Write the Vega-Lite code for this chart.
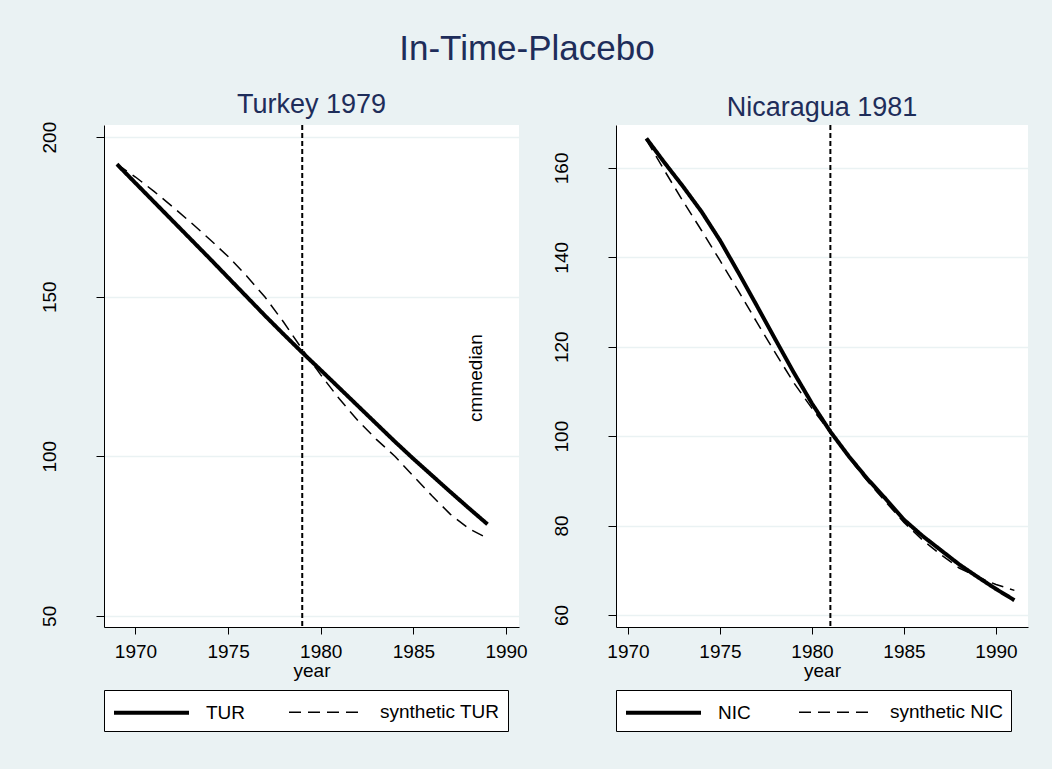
{
  "$schema": "https://vega.github.io/schema/vega-lite/v6.json",
  "background": "#EAF2F3",
  "padding": {"left": 40, "top": 32, "right": 24, "bottom": 37},
  "title": {"text": "In-Time-Placebo", "fontSize": 35, "font": "Liberation Sans", "fontWeight": "normal", "color": "#1E2D5A", "anchor": "middle", "offset": 24, "dx": -7},
  "datasets": {
    "tur": [
      {"year": 1969, "value": 191.5, "series": "TUR"},
      {"year": 1970, "value": 185.6, "series": "TUR"},
      {"year": 1971, "value": 179.7, "series": "TUR"},
      {"year": 1972, "value": 173.8, "series": "TUR"},
      {"year": 1973, "value": 167.9, "series": "TUR"},
      {"year": 1974, "value": 162.0, "series": "TUR"},
      {"year": 1975, "value": 156.0, "series": "TUR"},
      {"year": 1976, "value": 150.0, "series": "TUR"},
      {"year": 1977, "value": 144.0, "series": "TUR"},
      {"year": 1978, "value": 138.2, "series": "TUR"},
      {"year": 1979, "value": 132.5, "series": "TUR"},
      {"year": 1980, "value": 127.0, "series": "TUR"},
      {"year": 1981, "value": 121.4, "series": "TUR"},
      {"year": 1982, "value": 115.8, "series": "TUR"},
      {"year": 1983, "value": 110.2, "series": "TUR"},
      {"year": 1984, "value": 104.6, "series": "TUR"},
      {"year": 1985, "value": 99.2, "series": "TUR"},
      {"year": 1986, "value": 94.0, "series": "TUR"},
      {"year": 1987, "value": 88.8, "series": "TUR"},
      {"year": 1988, "value": 83.7, "series": "TUR"},
      {"year": 1989, "value": 78.7, "series": "TUR"},
      {"year": 1969, "value": 191.5, "series": "synthetic TUR"},
      {"year": 1970, "value": 187.5, "series": "synthetic TUR"},
      {"year": 1971, "value": 183.0, "series": "synthetic TUR"},
      {"year": 1972, "value": 178.2, "series": "synthetic TUR"},
      {"year": 1973, "value": 173.2, "series": "synthetic TUR"},
      {"year": 1974, "value": 168.0, "series": "synthetic TUR"},
      {"year": 1975, "value": 162.6, "series": "synthetic TUR"},
      {"year": 1976, "value": 156.5, "series": "synthetic TUR"},
      {"year": 1977, "value": 149.8, "series": "synthetic TUR"},
      {"year": 1978, "value": 142.0, "series": "synthetic TUR"},
      {"year": 1979, "value": 133.5, "series": "synthetic TUR"},
      {"year": 1980, "value": 125.5, "series": "synthetic TUR"},
      {"year": 1981, "value": 118.0, "series": "synthetic TUR"},
      {"year": 1982, "value": 111.2, "series": "synthetic TUR"},
      {"year": 1983, "value": 105.3, "series": "synthetic TUR"},
      {"year": 1984, "value": 100.0, "series": "synthetic TUR"},
      {"year": 1985, "value": 93.8, "series": "synthetic TUR"},
      {"year": 1986, "value": 87.6, "series": "synthetic TUR"},
      {"year": 1987, "value": 81.8, "series": "synthetic TUR"},
      {"year": 1988, "value": 77.3, "series": "synthetic TUR"},
      {"year": 1989, "value": 74.3, "series": "synthetic TUR"}
    ],
    "nic": [
      {"year": 1971, "value": 166.6, "series": "NIC"},
      {"year": 1972, "value": 161.1, "series": "NIC"},
      {"year": 1973, "value": 155.8, "series": "NIC"},
      {"year": 1974, "value": 150.2, "series": "NIC"},
      {"year": 1975, "value": 143.8, "series": "NIC"},
      {"year": 1976, "value": 136.6, "series": "NIC"},
      {"year": 1977, "value": 129.2, "series": "NIC"},
      {"year": 1978, "value": 121.7, "series": "NIC"},
      {"year": 1979, "value": 114.3, "series": "NIC"},
      {"year": 1980, "value": 107.3, "series": "NIC"},
      {"year": 1981, "value": 101.0, "series": "NIC"},
      {"year": 1982, "value": 95.5, "series": "NIC"},
      {"year": 1983, "value": 90.5, "series": "NIC"},
      {"year": 1984, "value": 86.0, "series": "NIC"},
      {"year": 1985, "value": 81.3, "series": "NIC"},
      {"year": 1986, "value": 77.7, "series": "NIC"},
      {"year": 1987, "value": 74.5, "series": "NIC"},
      {"year": 1988, "value": 71.3, "series": "NIC"},
      {"year": 1989, "value": 68.5, "series": "NIC"},
      {"year": 1990, "value": 65.8, "series": "NIC"},
      {"year": 1991, "value": 63.3, "series": "NIC"},
      {"year": 1971, "value": 166.3, "series": "synthetic NIC"},
      {"year": 1972, "value": 159.3, "series": "synthetic NIC"},
      {"year": 1973, "value": 152.5, "series": "synthetic NIC"},
      {"year": 1974, "value": 146.0, "series": "synthetic NIC"},
      {"year": 1975, "value": 139.3, "series": "synthetic NIC"},
      {"year": 1976, "value": 132.5, "series": "synthetic NIC"},
      {"year": 1977, "value": 125.5, "series": "synthetic NIC"},
      {"year": 1978, "value": 118.7, "series": "synthetic NIC"},
      {"year": 1979, "value": 112.0, "series": "synthetic NIC"},
      {"year": 1980, "value": 106.2, "series": "synthetic NIC"},
      {"year": 1981, "value": 100.8, "series": "synthetic NIC"},
      {"year": 1982, "value": 95.2, "series": "synthetic NIC"},
      {"year": 1983, "value": 90.0, "series": "synthetic NIC"},
      {"year": 1984, "value": 85.3, "series": "synthetic NIC"},
      {"year": 1985, "value": 80.7, "series": "synthetic NIC"},
      {"year": 1986, "value": 76.8, "series": "synthetic NIC"},
      {"year": 1987, "value": 73.5, "series": "synthetic NIC"},
      {"year": 1988, "value": 70.5, "series": "synthetic NIC"},
      {"year": 1989, "value": 68.5, "series": "synthetic NIC"},
      {"year": 1990, "value": 66.8, "series": "synthetic NIC"},
      {"year": 1991, "value": 65.5, "series": "synthetic NIC"}
    ]
  },
  "spacing": 24,
  "hconcat": [
    {
      "width": 415,
      "height": 502,
      "title": {"text": "Turkey 1979"},
      "layer": [
        {
          "data": {"name": "tur"},
          "mark": {"type": "line", "color": "black", "strokeCap": "butt"},
          "encoding": {
            "x": {"field": "year", "type": "quantitative", "scale": {"domain": [1968.3, 1990.7], "nice": false, "zero": false}, "axis": {"values": [1970, 1975, 1980, 1985, 1990], "format": "d", "title": "year"}},
            "y": {"field": "value", "type": "quantitative", "scale": {"domain": [46.5, 203.8], "nice": false, "zero": false}, "axis": {"values": [50, 100, 150, 200], "title": null}},
            "strokeDash": {"field": "series", "type": "nominal", "scale": {"domain": ["TUR", "synthetic TUR"], "range": [[1, 0], [12, 7]]}, "legend": {"title": null}},
            "strokeWidth": {"field": "series", "type": "nominal", "scale": {"domain": ["TUR", "synthetic TUR"], "range": [4, 1.5]}, "legend": {"title": null}}
          }
        },
        {
          "data": {"values": [{"year": 1979}]},
          "mark": {"type": "rule", "color": "black", "strokeDash": [5, 3], "strokeWidth": 2},
          "encoding": {"x": {"field": "year", "type": "quantitative"}}
        },
        {
          "data": {"values": [{"year": 1988.4, "value": 124.5, "label": "cmmedian"}]},
          "mark": {"type": "text", "angle": 270, "fontSize": 19, "font": "Liberation Sans", "color": "black", "align": "center", "baseline": "middle"},
          "encoding": {"x": {"field": "year", "type": "quantitative"}, "y": {"field": "value", "type": "quantitative"}, "text": {"field": "label"}}
        }
      ]
    },
    {
      "width": 412,
      "height": 502,
      "title": {"text": "Nicaragua 1981"},
      "layer": [
        {
          "data": {"name": "nic"},
          "mark": {"type": "line", "color": "black", "strokeCap": "butt"},
          "encoding": {
            "x": {"field": "year", "type": "quantitative", "scale": {"domain": [1969.35, 1991.74], "nice": false, "zero": false}, "axis": {"values": [1970, 1975, 1980, 1985, 1990], "format": "d", "title": "year"}},
            "y": {"field": "value", "type": "quantitative", "scale": {"domain": [57.3, 169.6], "nice": false, "zero": false}, "axis": {"values": [60, 80, 100, 120, 140, 160], "title": null}},
            "strokeDash": {"field": "series", "type": "nominal", "scale": {"domain": ["NIC", "synthetic NIC"], "range": [[1, 0], [12, 7]]}, "legend": {"title": null, "columnPadding": 45}},
            "strokeWidth": {"field": "series", "type": "nominal", "scale": {"domain": ["NIC", "synthetic NIC"], "range": [4, 1.5]}, "legend": {"title": null, "columnPadding": 45}}
          }
        },
        {
          "data": {"values": [{"year": 1981}]},
          "mark": {"type": "rule", "color": "black", "strokeDash": [5, 3], "strokeWidth": 2},
          "encoding": {"x": {"field": "year", "type": "quantitative"}}
        }
      ]
    }
  ],
  "resolve": {"scale": {"x": "independent", "y": "independent", "strokeDash": "independent", "strokeWidth": "independent"}, "legend": {"strokeDash": "independent", "strokeWidth": "independent"}},
  "config": {
    "font": "Liberation Sans",
    "view": {"fill": "white", "stroke": null},
    "title": {"fontSize": 27, "fontWeight": "normal", "color": "#1E2D5A", "font": "Liberation Sans", "offset": 2},
    "axis": {
      "domainColor": "black", "domainWidth": 1, "tickColor": "black", "tickWidth": 1,
      "gridColor": "#EAF2F3", "gridWidth": 1.5,
      "labelFont": "Liberation Sans", "labelFontSize": 19, "labelColor": "black",
      "titleFont": "Liberation Sans", "titleFontSize": 19, "titleFontWeight": "normal", "titleColor": "black"
    },
    "axisX": {"grid": false, "tickSize": 7, "labelPadding": 8, "titlePadding": 0},
    "axisY": {"grid": true, "tickSize": 8, "labelAngle": 270, "labelPadding": 37, "labelAlign": "center", "labelBaseline": "bottom"},
    "legend": {
      "orient": "bottom", "direction": "horizontal", "strokeColor": "black", "fillColor": "white", "padding": 8, "cornerRadius": 0,
      "symbolType": "M-1,0H5", "symbolSize": 625, "symbolStrokeColor": "black",
      "labelFont": "Liberation Sans", "labelFontSize": 19, "labelColor": "black", "labelOffset": 65, "columnPadding": 40, "offset": 10
    }
  }
}
